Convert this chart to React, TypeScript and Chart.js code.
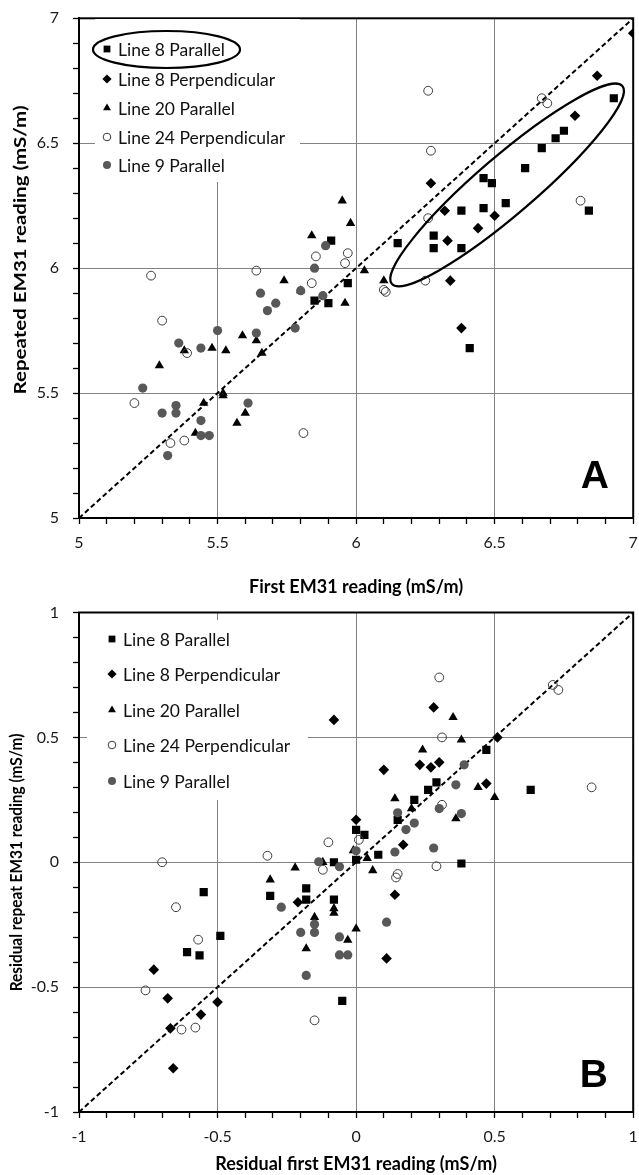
import React, { useEffect, useRef } from 'react';
import { Chart, registerables } from 'chart.js';
import { drawPoint } from 'chart.js/helpers';

Chart.register(...registerables);

type Pt = [number, number];

const SERIES_NAMES = [
  'Line 8 Parallel',
  'Line 8 Perpendicular',
  'Line 20 Parallel',
  'Line 24 Perpendicular',
  'Line 9 Parallel',
];

// ---------- Panel A : first vs repeated reading ----------
const A_LINE8_PAR: Pt[] = [
  [6.93, 6.68], [6.75, 6.55], [6.72, 6.52], [6.67, 6.48], [6.61, 6.40], [6.46, 6.36], [6.49, 6.34],
  [6.54, 6.26], [6.38, 6.23], [6.46, 6.24], [6.84, 6.23], [6.28, 6.13], [6.28, 6.08], [6.38, 6.08],
  [6.15, 6.10], [5.91, 6.11], [5.97, 5.94], [5.85, 5.87], [5.90, 5.86], [6.41, 5.68],
];
const A_LINE8_PERP: Pt[] = [
  [7.0, 6.94], [6.87, 6.77], [6.79, 6.61], [6.27, 6.34], [6.32, 6.23], [6.50, 6.21], [6.44, 6.16],
  [6.33, 6.11], [6.34, 5.95], [6.38, 5.76],
];
const A_LINE20_PAR: Pt[] = [
  [5.95, 6.27], [5.98, 6.18], [5.84, 6.13], [6.03, 5.99], [6.10, 5.95], [5.96, 5.86], [5.74, 5.95],
  [5.80, 5.91], [5.59, 5.73], [5.64, 5.71], [5.66, 5.66], [5.48, 5.68], [5.53, 5.67], [5.38, 5.67],
  [5.29, 5.61], [5.52, 5.50], [5.52, 5.49], [5.45, 5.46], [5.60, 5.42], [5.57, 5.38], [5.42, 5.34],
];
const A_LINE24_PERP: Pt[] = [
  [6.26, 6.71], [6.67, 6.68], [6.69, 6.66], [6.27, 6.47], [6.81, 6.27], [6.26, 6.20], [5.97, 6.06],
  [5.855, 6.047], [5.96, 6.02], [6.25, 5.95], [6.10, 5.913], [6.107, 5.905], [5.84, 5.94], [5.81, 5.34],
  [5.26, 5.97], [5.64, 5.99], [5.30, 5.79], [5.39, 5.66], [5.20, 5.46], [5.33, 5.30], [5.38, 5.31],
];
const A_LINE9_PAR: Pt[] = [
  [5.89, 6.09], [5.85, 6.00], [5.88, 5.89], [5.80, 5.91], [5.655, 5.90], [5.71, 5.86], [5.68, 5.83],
  [5.78, 5.76], [5.50, 5.75], [5.64, 5.74], [5.36, 5.70], [5.44, 5.68], [5.23, 5.52], [5.61, 5.46],
  [5.35, 5.45], [5.30, 5.42], [5.35, 5.42], [5.44, 5.39], [5.44, 5.33], [5.47, 5.33], [5.32, 5.25],
];
const A_ONE_TO_ONE: Pt[] = [[5, 5], [7, 7]];
const A_TICKS = [5, 5.5, 6, 6.5, 7];
const A_TICK_LABELS = ['5', '5.5', '6', '6.5', '7'];
// ellipse around the Line 8 cluster: centre and end of major axis, in data units
const A_CLUSTER_CENTER: Pt = [6.545, 6.333];
const A_CLUSTER_TIP: Pt = [6.961, 6.729];

// ---------- Panel B : residuals ----------
const B_LINE8_PAR: Pt[] = [
  [0.47, 0.45], [0.63, 0.29], [0.29, 0.32], [0.26, 0.29], [0.21, 0.25], [0.15, 0.17], [0.0, 0.13],
  [0.03, 0.11], [0.08, 0.03], [0.0, 0.01], [-0.08, 0.0], [0.38, -0.005], [-0.18, -0.105], [-0.31, -0.135],
  [-0.18, -0.15], [-0.08, -0.15], [-0.05, -0.555], [-0.55, -0.12], [-0.49, -0.295], [-0.61, -0.36],
  [-0.565, -0.373],
];
const B_LINE8_PERP: Pt[] = [
  [-0.08, 0.57], [0.28, 0.62], [0.51, 0.50], [0.10, 0.37], [0.23, 0.39], [0.27, 0.38], [0.30, 0.40],
  [0.47, 0.315], [0.0, 0.17], [0.17, 0.07], [0.14, -0.13], [0.11, -0.385], [-0.21, -0.16], [-0.73, -0.43],
  [-0.68, -0.545], [-0.50, -0.56], [-0.56, -0.61], [-0.67, -0.665], [-0.66, -0.825],
];
const B_LINE20_PAR: Pt[] = [
  [0.35, 0.58], [0.38, 0.49], [0.24, 0.45], [0.44, 0.30], [0.50, 0.26], [0.14, 0.255], [0.20, 0.215],
  [0.36, 0.175], [-0.01, 0.047], [0.04, 0.016], [0.06, -0.033], [-0.12, 0.0], [-0.22, -0.022],
  [-0.31, -0.07], [-0.15, -0.22], [-0.08, -0.185], [-0.08, -0.203], [0.0, -0.266], [-0.03, -0.312],
  [-0.18, -0.346],
];
const B_LINE24_PERP: Pt[] = [
  [0.30, 0.74], [0.71, 0.71], [0.73, 0.69], [0.31, 0.50], [0.85, 0.30], [0.31, 0.23], [-0.10, 0.08],
  [0.01, 0.09], [0.29, -0.016], [-0.32, 0.026], [-0.12, -0.03], [0.15, -0.047], [0.144, -0.061],
  [-0.15, -0.633], [-0.70, 0.0], [-0.65, -0.18], [-0.57, -0.31], [-0.76, -0.513], [-0.63, -0.67],
  [-0.58, -0.662],
];
const B_LINE9_PAR: Pt[] = [
  [0.39, 0.39], [0.36, 0.31], [0.30, 0.215], [0.38, 0.195], [0.15, 0.198], [0.21, 0.157], [0.18, 0.131],
  [0.28, 0.057], [0.14, 0.041], [0.0, 0.046], [-0.135, 0.002], [-0.06, -0.018], [-0.27, -0.18],
  [-0.15, -0.248], [-0.20, -0.281], [-0.15, -0.281], [-0.06, -0.299], [0.11, -0.24], [-0.06, -0.371],
  [-0.03, -0.371], [-0.18, -0.453],
];
const B_ONE_TO_ONE: Pt[] = [[-1, -1], [1, 1]];
const B_TICKS = [-1, -0.5, 0, 0.5, 1];
const B_TICK_LABELS = ['-1', '-0.5', '0', '0.5', '1'];

// ---------- styles ----------
const GRID = '#828282';
const FONT = 'Lato, "Open Sans", sans-serif';
const MARKERS: any[] = [
  { pointStyle: 'rect', pointRadius: 5.8, backgroundColor: '#000', borderColor: '#000', borderWidth: 0 },
  { pointStyle: 'rectRot', pointRadius: 5.3, backgroundColor: '#000', borderColor: '#000', borderWidth: 0 },
  { pointStyle: 'triangle', pointRadius: 5.4, backgroundColor: '#000', borderColor: '#000', borderWidth: 0 },
  { pointStyle: 'circle', pointRadius: 4.4, backgroundColor: 'rgba(0,0,0,0)', borderColor: '#3c3c3c', borderWidth: 1 },
  { pointStyle: 'circle', pointRadius: 4.6, backgroundColor: '#585858', borderColor: '#585858', borderWidth: 0 },
];
const LEGEND_MARKERS = [
  { pointStyle: 'rect', radius: 4.8 },
  { pointStyle: 'rectRot', radius: 4.6 },
  { pointStyle: 'triangle', radius: 4.6 },
  { pointStyle: 'circle', radius: 3.8 },
  { pointStyle: 'circle', radius: 4.0 },
];

interface Spec {
  series: Pt[][];
  diag: Pt[];
  ticks: number[];
  tickLabels: string[];
  xTitle: string;
  yTitle: string;
  yTitleBox: { x: number; y: number; size: number; stretch: number };
  xTitlePad: number;
  height: number;
  padTop: number;
  xAxisHeight: number;
  legend: { left: number; top: number; right: number; bottom: number; markerX: number; textX: number; rows: number[]; size: number };
  legendRing?: { cx: number; cy: number; rx: number; ry: number };
  cluster?: { center: Pt; tip: Pt; minor: number };
  letter: { text: string; right: number; baseline: number };
}

const decorPlugin = {
  id: 'decor',
  afterDatasetsDraw(chart: any, _args: any, opts: any) {
    const spec: Spec = opts.spec;
    const { ctx, chartArea: ca, scales } = chart;
    ctx.save();
    // plot frame
    ctx.strokeStyle = '#000';
    ctx.lineWidth = 2;
    ctx.strokeRect(ca.left, ca.top, ca.right - ca.left, ca.bottom - ca.top);

    // cluster ellipse
    if (spec.cluster) {
      const cx = scales.x.getPixelForValue(spec.cluster.center[0]);
      const cy = scales.y.getPixelForValue(spec.cluster.center[1]);
      const tx = scales.x.getPixelForValue(spec.cluster.tip[0]);
      const ty = scales.y.getPixelForValue(spec.cluster.tip[1]);
      const a = Math.hypot(tx - cx, ty - cy);
      const rot = Math.atan2(ty - cy, tx - cx);
      ctx.beginPath();
      ctx.ellipse(cx, cy, a, spec.cluster.minor, rot, 0, Math.PI * 2);
      ctx.lineWidth = 2.2;
      ctx.strokeStyle = '#000';
      ctx.stroke();
    }

    // legend box
    const lg = spec.legend;
    ctx.fillStyle = '#fff';
    ctx.fillRect(lg.left, lg.top, lg.right - lg.left, lg.bottom - lg.top);
    ctx.font = `${lg.size}px ${FONT}`;
    ctx.textBaseline = 'middle';
    ctx.textAlign = 'left';
    SERIES_NAMES.forEach((name, i) => {
      const m = MARKERS[i];
      const lm = LEGEND_MARKERS[i];
      ctx.fillStyle = m.backgroundColor;
      ctx.strokeStyle = m.borderColor;
      ctx.lineWidth = m.borderWidth;
      drawPoint(ctx, { pointStyle: lm.pointStyle, radius: lm.radius, rotation: 0, borderWidth: m.borderWidth } as any, lg.markerX, lg.rows[i]);
      ctx.fillStyle = '#111';
      ctx.fillText(name, lg.textX, lg.rows[i] + 1);
    });
    if (spec.legendRing) {
      const r = spec.legendRing;
      ctx.beginPath();
      ctx.ellipse(r.cx, r.cy, r.rx, r.ry, 0, 0, Math.PI * 2);
      ctx.lineWidth = 2.2;
      ctx.strokeStyle = '#000';
      ctx.stroke();
    }

    // panel letter
    ctx.fillStyle = '#000';
    ctx.font = `bold 39px "Liberation Sans", Arial, sans-serif`;
    ctx.textAlign = 'right';
    ctx.textBaseline = 'alphabetic';
    ctx.fillText(spec.letter.text, spec.letter.right, spec.letter.baseline);

    // y-axis title
    const t = spec.yTitleBox;
    ctx.save();
    ctx.translate(t.x, t.y);
    ctx.rotate(-Math.PI / 2);
    ctx.scale(t.stretch, 1);
    ctx.font = `bold ${t.size}px ${FONT}`;
    ctx.textAlign = 'center';
    ctx.textBaseline = 'middle';
    ctx.fillStyle = '#000';
    ctx.fillText(spec.yTitle, 0, 0);
    ctx.restore();

    ctx.restore();
  },
};

function isMajor(v: number, ticks: number[]) {
  return ticks.some((t) => Math.abs(t - v) < 1e-6);
}

function makeConfig(spec: Spec): any {
  const min = spec.ticks[0];
  const max = spec.ticks[spec.ticks.length - 1];
  const datasets: any[] = spec.series.map((pts, i) => ({
    type: 'scatter',
    label: SERIES_NAMES[i],
    data: pts.map(([x, y]) => ({ x, y })),
    ...MARKERS[i],
    pointHoverRadius: MARKERS[i].pointRadius,
    order: 5 - i,
  }));
  datasets.push({
    type: 'line',
    label: '1:1',
    data: spec.diag.map(([x, y]) => ({ x, y })),
    borderColor: '#000',
    borderWidth: 2,
    borderDash: [5, 3],
    pointRadius: 0,
    fill: false,
    order: 10,
  });

  const label = (v: number) => {
    const idx = spec.ticks.findIndex((t) => Math.abs(t - v) < 1e-6);
    return idx >= 0 ? spec.tickLabels[idx] : '';
  };
  const zeroPad = (s: any) => {
    s.paddingLeft = 0;
    s.paddingRight = 0;
    s.paddingTop = 0;
    s.paddingBottom = 0;
  };
  const common = (axis: 'x' | 'y') => ({
    type: 'linear',
    min,
    max,
    ticks: {
      stepSize: 0.1,
      autoSkip: false,
      maxRotation: 0,
      minRotation: 0,
      padding: axis === 'x' ? 9 : 14,
      color: '#1a1a1a',
      font: { family: FONT, size: 16 },
      callback: (v: number) => label(v),
    },
    grid: {
      color: (c: any) => (c.tick && isMajor(c.tick.value, spec.ticks) ? GRID : 'rgba(0,0,0,0)'),
      lineWidth: 1,
      tickLength: 6,
      tickColor: '#000',
      tickWidth: 1.3,
      drawTicks: true,
    },
    border: { display: true, color: '#000', width: 2 },
  });

  return {
    type: 'scatter',
    data: { datasets },
    plugins: [decorPlugin],
    options: {
      responsive: false,
      animation: false,
      events: [],
      layout: { padding: { top: spec.padTop, right: 2, bottom: 0, left: 0 } },
      plugins: {
        legend: { display: false },
        tooltip: { enabled: false },
        decor: { spec },
      },
      scales: {
        x: {
          ...common('x'),
          position: 'bottom',
          title: {
            display: true,
            text: spec.xTitle,
            color: '#000',
            font: { family: FONT, size: 18, weight: 'bold' },
            padding: { top: 0, bottom: spec.xTitlePad },
          },
          afterFit: (s: any) => {
            s.height = spec.xAxisHeight;
            zeroPad(s);
          },
        },
        y: {
          ...common('y'),
          position: 'left',
          title: { display: false },
          afterFit: (s: any) => {
            s.width = 79;
            zeroPad(s);
          },
        },
      },
    },
  };
}

const SPEC_A: Spec = {
  series: [A_LINE8_PAR, A_LINE8_PERP, A_LINE20_PAR, A_LINE24_PERP, A_LINE9_PAR],
  diag: A_ONE_TO_ONE,
  ticks: A_TICKS,
  tickLabels: A_TICK_LABELS,
  xTitle: 'First EM31 reading (mS/m)',
  yTitle: 'Repeated EM31 reading (mS/m)',
  yTitleBox: { x: 20, y: 250, size: 17.5, stretch: 1.17 },
  xTitlePad: 2,
  height: 600,
  padTop: 18.3,
  xAxisHeight: 82,
  legend: { left: 95, top: 19, right: 300, bottom: 182, markerX: 107, textX: 118, rows: [49, 79, 108, 137, 165], size: 17.5 },
  legendRing: { cx: 166.5, cy: 49.5, rx: 73.5, ry: 18.5 },
  cluster: { center: A_CLUSTER_CENTER, tip: A_CLUSTER_TIP, minor: 29 },
  letter: { text: 'A', right: 609, baseline: 488 },
};

const SPEC_B: Spec = {
  series: [B_LINE8_PAR, B_LINE8_PERP, B_LINE20_PAR, B_LINE24_PERP, B_LINE9_PAR],
  diag: B_ONE_TO_ONE,
  ticks: B_TICKS,
  tickLabels: B_TICK_LABELS,
  xTitle: 'Residual first EM31 reading (mS/m)',
  yTitle: 'Residual repeat EM31 reading (mS/m)',
  yTitleBox: { x: 16, y: 262.5, size: 17.5, stretch: 0.88 },
  xTitlePad: 0.5,
  height: 575,
  padTop: 12.5,
  xAxisHeight: 63,
  legend: { left: 87, top: 20, right: 308, bottom: 200, markerX: 112, textX: 123, rows: [39, 74, 110, 145, 181], size: 17.5 },
  letter: { text: 'B', right: 608, baseline: 487 },
};

function Panel({ spec, top }: { spec: Spec; top: number }) {
  const ref = useRef<HTMLCanvasElement>(null);
  useEffect(() => {
    if (!ref.current) return;
    const chart = new Chart(ref.current, makeConfig(spec));
    return () => chart.destroy();
  }, [spec]);
  return (
    <div style={{ position: 'absolute', left: 0, top, width: 639, height: spec.height }}>
      <canvas ref={ref} width={639} height={spec.height} style={{ width: 639, height: spec.height, display: 'block' }} />
    </div>
  );
}

export default function App() {
  return (
    <div style={{ position: 'absolute', left: 0, top: 0, width: 639, height: 1175, background: '#fff' }}>
      <Panel spec={SPEC_A} top={0} />
      <Panel spec={SPEC_B} top={600} />
    </div>
  );
}
